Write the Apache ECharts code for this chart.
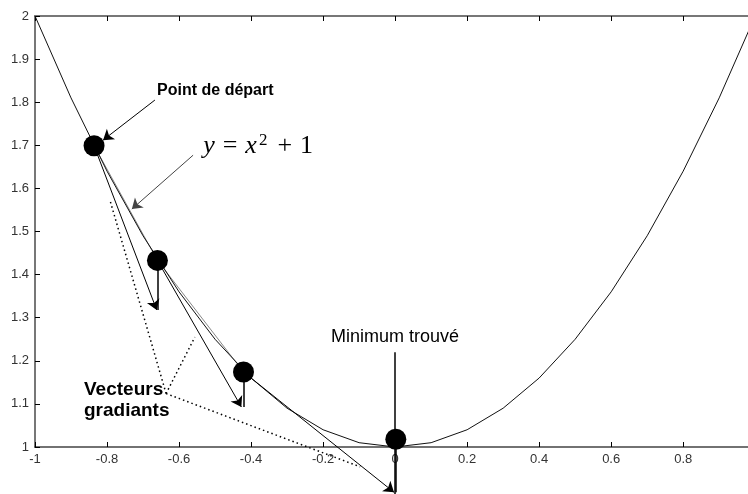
<!DOCTYPE html>
<html>
<head>
<meta charset="utf-8">
<script src="https://cdn.jsdelivr.net/npm/echarts@6/dist/echarts.min.js"></script>
<style>
  html, body { margin: 0; padding: 0; background: #fff; }
  #main { width: 748px; height: 494px; }
</style>
</head>
<body>
<div id="main"></div>
<script>
// courbe y = x^2 + 1, lue tous les 0.1
const curveX = [-1, -0.9, -0.8, -0.7, -0.6, -0.5, -0.4, -0.3, -0.2, -0.1, 0, 0.1, 0.2, 0.3, 0.4, 0.5, 0.6, 0.7, 0.8, 0.9, 1];
const curveY = [2, 1.81, 1.64, 1.49, 1.36, 1.25, 1.16, 1.09, 1.04, 1.01, 1, 1.01, 1.04, 1.09, 1.16, 1.25, 1.36, 1.49, 1.64, 1.81, 2];

// itérés de la descente
const stepX = [-0.836, -0.66, -0.421, 0.002];
const stepY = [1.699, 1.433, 1.174, 1.018];

// pointes des vecteurs gradients
const tipX = [-0.662, -0.427, -0.003];
const tipY = [1.318, 1.093, 0.895];

// graduations
const xTicks = [-1, -0.8, -0.6, -0.4, -0.2, 0, 0.2, 0.4, 0.6, 0.8];
const yTicks = [1, 1.1, 1.2, 1.3, 1.4, 1.5, 1.6, 1.7, 1.8, 1.9, 2];

// annotations (coordonnées données)
const startArrow = [[-0.667, 1.805], [-0.811, 1.712]];
const formulaArrow = [[-0.561, 1.677], [-0.731, 1.552]];
const minLine = [[0, 1.22], [0, 0.885]];
const dotFrom = [-0.636, 1.124];
const dotTo = [[-0.792, 1.573], [-0.556, 1.255], [-0.097, 0.954]];

const chart = echarts.init(document.getElementById('main'));

const curveData = curveX.map((x, i) => [x, curveY[i]]);
const stepData = stepX.map((x, i) => [x, stepY[i]]);

const gradArrows = tipX.map((x, i) => ({ coords: [[stepX[i], stepY[i]], [x, tipY[i]]] }));
const vertLines = tipX.map((x, i) => ({ coords: [[stepX[i + 1], stepY[i + 1]], [stepX[i + 1], tipY[i]]] }));
const chords = [0, 1].map(i => ({ coords: [[stepX[i], stepY[i]], [stepX[i + 1], stepY[i + 1]]] }));
const dotted = dotTo.map(p => ({ coords: [dotFrom, p] }));

const axisFont = { fontFamily: 'Liberation Sans', fontSize: 13, color: '#333' };

const option = {
  animation: false,
  backgroundColor: '#fff',
  grid: { left: 35, top: 16, right: 0, bottom: 47 },
  xAxis: [
    {
      type: 'value', min: -1, max: 0.98, interval: 0.2,
      axisLine: { onZero: false, lineStyle: { color: '#444', width: 1.5 } },
      axisTick: { inside: true, length: 5, lineStyle: { color: '#000' } },
      axisLabel: {
        ...axisFont, margin: 6, showMaxLabel: false,
        formatter: v => xTicks.some(t => Math.abs(t - v) < 1e-6) ? String(+v.toFixed(1)) : ''
      },
      splitLine: { show: false }
    },
    {
      type: 'value', position: 'top', min: -1, max: 0.98, interval: 0.2,
      axisLine: { onZero: false, lineStyle: { color: '#777', width: 2 } },
      axisTick: { inside: true, length: 5, lineStyle: { color: '#000' } },
      axisLabel: { show: false },
      splitLine: { show: false }
    }
  ],
  yAxis: {
    type: 'value', min: 1, max: 2, interval: 0.1,
    axisLine: { onZero: false, lineStyle: { color: '#777', width: 2 } },
    axisTick: { inside: true, length: 5, lineStyle: { color: '#000' } },
    axisLabel: {
      ...axisFont, margin: 6,
      formatter: v => yTicks.some(t => Math.abs(t - v) < 1e-6) ? String(+v.toFixed(1)) : ''
    },
    splitLine: { show: false }
  },
  series: [
    {
      name: 'courbe', type: 'line', data: curveData, showSymbol: false,
      lineStyle: { color: '#111', width: 1 }, z: 2
    },
    {
      name: 'cordes', type: 'lines', coordinateSystem: 'cartesian2d', clip: false,
      data: chords, symbol: 'none',
      lineStyle: { color: '#888', width: 1, opacity: 1 }, z: 2
    },
    {
      name: 'gradients', type: 'lines', coordinateSystem: 'cartesian2d', clip: false,
      data: gradArrows, symbol: ['none', 'arrow'], symbolSize: 10,
      lineStyle: { color: '#000', width: 1, opacity: 1 }, z: 3
    },
    {
      name: 'verticales', type: 'lines', coordinateSystem: 'cartesian2d', clip: false,
      data: vertLines.concat([{ coords: minLine }]), symbol: 'none',
      lineStyle: { color: '#000', width: 1.5, opacity: 1 }, z: 3
    },
    {
      name: 'pointeurs', type: 'lines', coordinateSystem: 'cartesian2d', clip: false,
      data: [
        { coords: startArrow, lineStyle: { color: '#000' } },
        { coords: formulaArrow, lineStyle: { color: '#444' } }
      ],
      symbol: ['none', 'arrow'], symbolSize: 10,
      lineStyle: { width: 1, opacity: 1 }, z: 3
    },
    {
      name: 'pointillés', type: 'lines', coordinateSystem: 'cartesian2d', clip: false,
      data: dotted, symbol: 'none',
      lineStyle: { color: '#000', width: 1.5, type: [1.5, 3], opacity: 1 }, z: 3
    },
    {
      name: 'itérés', type: 'scatter', data: stepData, symbol: 'circle', symbolSize: 21,
      itemStyle: { color: '#000', opacity: 1 }, z: 4
    }
  ]
};

chart.setOption(option);

// textes placés depuis des coordonnées données
const px = p => chart.convertToPixel({ gridIndex: 0 }, p);
const pStart = px([-0.661, 1.828]);
const pFormula = px([-0.533, 1.698]);
const pMin = px([0, 1.255]);
const pVect = px([-0.864, 1.108]);

const serif = '"Liberation Serif"';

chart.setOption({
  graphic: [
    {
      type: 'text', x: pStart[0], y: pStart[1], z: 10,
      style: {
        text: 'Point de départ', fill: '#000', font: 'bold 16px "Liberation Sans"',
        textAlign: 'left', textVerticalAlign: 'middle'
      }
    },
    {
      type: 'text', x: pFormula[0], y: pFormula[1], z: 10,
      style: {
        text: '{i|y}{o|=}{i|x}{s|2}{p|+}{n|1}',
        fill: '#000', font: '26px ' + serif,
        textAlign: 'left', textVerticalAlign: 'middle',
        rich: {
          i: { font: 'italic 26px ' + serif, fill: '#000', lineHeight: 28 },
          o: { font: '26px ' + serif, fill: '#000', lineHeight: 28, padding: [0, 8, 0, 8] },
          p: { font: '26px ' + serif, fill: '#000', lineHeight: 28, padding: [0, 8, 0, 10] },
          n: { font: '26px ' + serif, fill: '#000', lineHeight: 28 },
          s: { font: '17px ' + serif, fill: '#000', verticalAlign: 'top', lineHeight: 28, padding: [0, 0, 0, 2] }
        }
      }
    },
    {
      type: 'text', x: pMin[0], y: pMin[1], z: 10,
      style: {
        text: 'Minimum trouvé', fill: '#000', font: '18px "Liberation Sans"',
        textAlign: 'center', textVerticalAlign: 'middle'
      }
    },
    {
      type: 'text', x: pVect[0], y: pVect[1], z: 10,
      style: {
        text: 'Vecteurs\ngradiants', fill: '#000', font: 'bold 19px "Liberation Sans"',
        lineHeight: 21, textAlign: 'left', textVerticalAlign: 'middle'
      }
    }
  ]
});
</script>
</body>
</html>
